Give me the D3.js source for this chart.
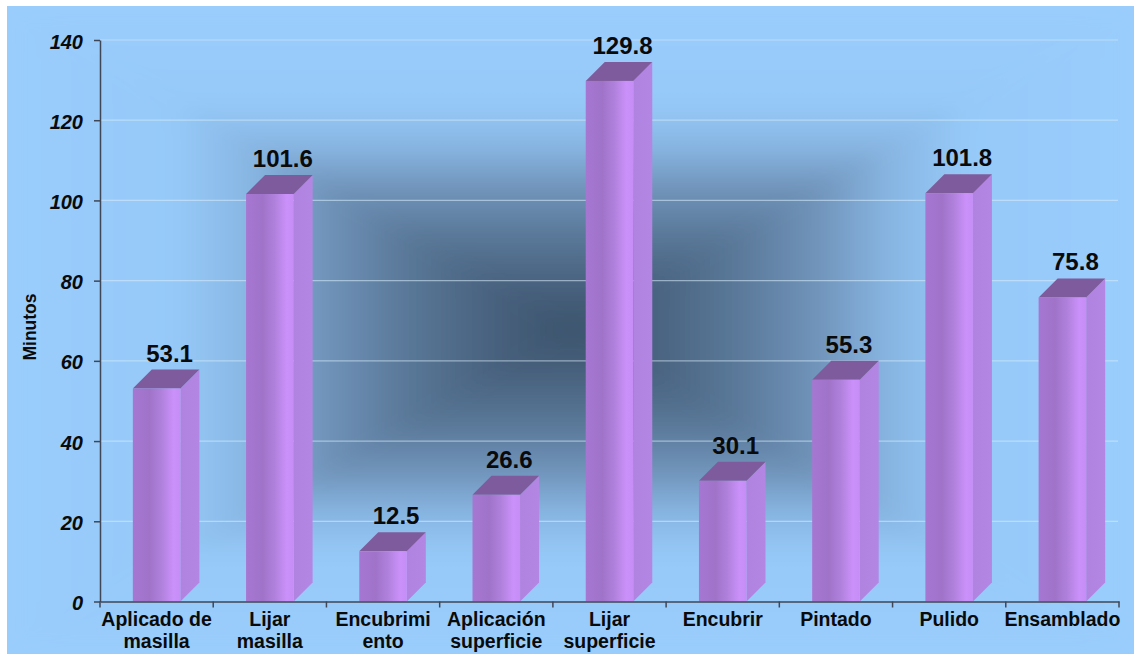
<!DOCTYPE html>
<html>
<head>
<meta charset="utf-8">
<script src="https://cdn.jsdelivr.net/npm/d3@7/dist/d3.min.js"></script>
<style>
html,body{margin:0;padding:0;background:#fff;}
svg{display:block;font-family:"Liberation Sans",Arial,sans-serif;}
</style>
</head>
<body>
<svg id="chart" width="1137" height="654"></svg>
<script>
const categories = ["Aplicado de\nmasilla", "Lijar\nmasilla", "Encubrimi\nento", "Aplicación\nsuperficie", "Lijar\nsuperficie", "Encubrir", "Pintado", "Pulido", "Ensamblado"];
const values = [53.1, 101.6, 12.5, 26.6, 129.8, 30.1, 55.3, 101.8, 75.8];
const yTicks = [0, 20, 40, 60, 80, 100, 120, 140];
const yTitle = "Minutos";

const svg = d3.select("#chart");
const defs = svg.append("defs");

// chart area background (rectangular "from centre" gradient)
const bg = {x0: 7, y0: 6, x1: 1134, y1: 654};
const cx = (bg.x0 + bg.x1) / 2, cy = (bg.y0 + bg.y1) / 2;
defs.append("clipPath").attr("id", "bgclip").append("rect")
  .attr("x", bg.x0).attr("y", bg.y0).attr("width", bg.x1 - bg.x0).attr("height", bg.y1 - bg.y0);
const stops = [[0, "#3c536c"], [0.12, "#465f7b"], [0.28, "#587696"], [0.43, "#6f92b8"], [0.57, "#88b6e3"], [0.7, "#96c9f8"], [1, "#9acdfc"]];
const dirs = [
  {id: "gT", ex: cx, ey: bg.y0, pts: [[bg.x0, bg.y0], [bg.x1, bg.y0], [cx, cy]]},
  {id: "gB", ex: cx, ey: bg.y1, pts: [[bg.x0, bg.y1], [bg.x1, bg.y1], [cx, cy]]},
  {id: "gL", ex: bg.x0, ey: cy, pts: [[bg.x0, bg.y0], [bg.x0, bg.y1], [cx, cy]]},
  {id: "gR", ex: bg.x1, ey: cy, pts: [[bg.x1, bg.y0], [bg.x1, bg.y1], [cx, cy]]}
];
dirs.forEach(d => {
  const g = defs.append("linearGradient").attr("id", d.id).attr("gradientUnits", "userSpaceOnUse")
    .attr("x1", cx).attr("y1", cy).attr("x2", d.ex).attr("y2", d.ey);
  stops.forEach(s => g.append("stop").attr("offset", s[0]).attr("stop-color", s[1]));
});
const blur = defs.append("filter").attr("id", "soft").attr("x", "-10%").attr("y", "-10%").attr("width", "120%").attr("height", "120%");
blur.append("feGaussianBlur").attr("stdDeviation", 9);

const bgG = svg.append("g").attr("clip-path", "url(#bgclip)");
bgG.append("rect").attr("x", bg.x0).attr("y", bg.y0).attr("width", bg.x1 - bg.x0).attr("height", bg.y1 - bg.y0).attr("fill", "#9acdfc");
const triG = bgG.append("g").attr("filter", "url(#soft)");
dirs.forEach(d => {
  triG.append("polygon").attr("points", d.pts.map(p => p.join(",")).join(" ")).attr("fill", `url(#${d.id})`);
});

// scales
const x = d3.scaleBand().domain(categories).range([100, 1119]).paddingInner(0).paddingOuter(0);
const y = d3.scaleLinear().domain([0, 140]).range([601.5, 40]);

// gridlines
svg.append("g").selectAll("line").data(yTicks.filter(t => t > 0)).join("line")
  .attr("x1", 100).attr("x2", 1118)
  .attr("y1", d => y(d)).attr("y2", d => y(d))
  .attr("stroke", "#d8ecfb").attr("stroke-opacity", 0.55).attr("stroke-width", 1.2);

// bar gradients
const fg = defs.append("linearGradient").attr("id", "front").attr("x1", 0).attr("y1", 0).attr("x2", 1).attr("y2", 0);
[[0, "#a677d2"], [0.35, "#a073c9"], [0.6, "#b081dc"], [0.86, "#cb91fb"], [1, "#c58df5"]]
  .forEach(s => fg.append("stop").attr("offset", s[0]).attr("stop-color", s[1]));
const sg = defs.append("linearGradient").attr("id", "side").attr("x1", 0).attr("y1", 0).attr("x2", 1).attr("y2", 0);
[[0, "#b183e0"], [1, "#b486e4"]].forEach(s => sg.append("stop").attr("offset", s[0]).attr("stop-color", s[1]));

const bw = x.bandwidth() * 0.42;
const dx = 19, dy = 19;
const bars = svg.append("g").selectAll("g").data(categories).join("g");
bars.each(function(c, i) {
  const g = d3.select(this);
  const x0 = x(c) + x.bandwidth() / 2 - bw / 2, x1 = x0 + bw;
  const yt = y(values[i]), yb = y(0);
  g.append("polygon").attr("points", [[x1, yb], [x1 + dx, yb - dy], [x1 + dx, yt - dy], [x1, yt]].map(p => p.join(",")).join(" "))
    .attr("fill", "url(#side)");
  g.append("polygon").attr("points", [[x0, yt], [x0 + dx, yt - dy], [x1 + dx, yt - dy], [x1, yt]].map(p => p.join(",")).join(" "))
    .attr("fill", "#7e5b9c");
  g.append("rect").attr("x", x0).attr("y", yt).attr("width", bw).attr("height", yb - yt).attr("fill", "url(#front)");
});

// value labels
svg.append("g").selectAll("text").data(categories).join("text")
  .attr("x", c => x(c) + x.bandwidth() / 2 + 13)
  .attr("y", (c, i) => y(values[i]) - 27)
  .attr("text-anchor", "middle")
  .attr("font-size", 24).attr("font-weight", "bold").attr("fill", "#0a0a0a")
  .text((c, i) => values[i].toFixed(1));

// y axis
const yAxis = svg.append("g").attr("transform", "translate(100,0)")
  .call(d3.axisLeft(y).tickValues(yTicks).tickSize(6).tickSizeOuter(0).tickPadding(11).tickFormat(d3.format("d")));
yAxis.select(".domain").attr("stroke", "#3f4656").attr("stroke-width", 1.5);
yAxis.selectAll(".tick line").attr("stroke", "#3f4656").attr("stroke-width", 1.5);
yAxis.selectAll(".tick text").attr("font-size", 20).attr("font-weight", "bold").attr("font-style", "italic")
  .attr("fill", "#0a0a0a").attr("font-family", "'Liberation Sans',Arial,sans-serif").attr("dy", "0.4em");

// x axis
const xAxis = svg.append("g").attr("transform", `translate(0,${y(0)})`)
  .call(d3.axisBottom(x).tickSize(0).tickSizeOuter(0).tickFormat(""));
xAxis.select(".domain").attr("stroke", "#3f4656").attr("stroke-width", 1.5);
const bounds = categories.map(c => x(c)).concat([x.range()[1]]);
xAxis.append("g").selectAll("line").data(bounds).join("line")
  .attr("x1", d => d).attr("x2", d => d).attr("y1", 0).attr("y2", 6)
  .attr("stroke", "#3f4656").attr("stroke-width", 1.5);

const xl = svg.append("g").selectAll("text").data(categories).join("text")
  .attr("x", c => x(c) + x.bandwidth() / 2)
  .attr("y", 626)
  .attr("text-anchor", "middle")
  .attr("font-size", 19.5).attr("font-weight", "bold").attr("fill", "#0a0a0a");
xl.each(function(c) {
  const t = d3.select(this);
  c.split("\n").forEach((line, k) => {
    t.append("tspan").attr("x", x(c) + x.bandwidth() / 2).attr("dy", k === 0 ? 0 : 22).text(line);
  });
});

// y title
svg.append("text").attr("transform", "translate(36,327) rotate(-90)")
  .attr("text-anchor", "middle").attr("font-size", 17.5).attr("font-weight", "bold").attr("fill", "#0a0a0a")
  .text(yTitle);
</script>
</body>
</html>
